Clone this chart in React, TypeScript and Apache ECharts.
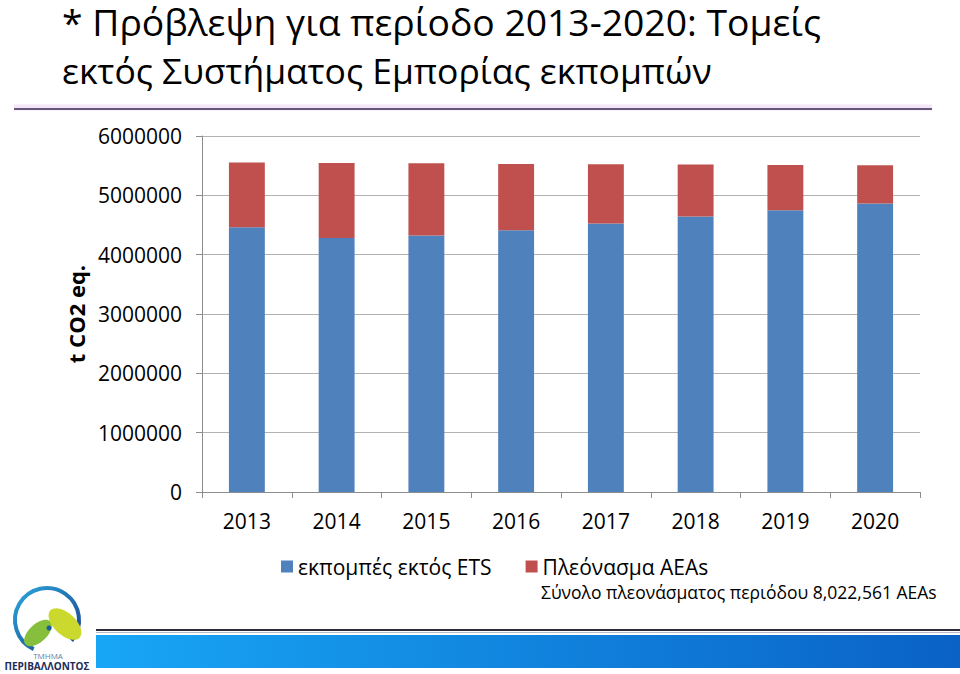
import React, { useEffect, useRef } from "react";
import * as echarts from "echarts";

const years = ["2013", "2014", "2015", "2016", "2017", "2018", "2019", "2020"];
const emissions = [4461000, 4281000, 4322000, 4411000, 4524000, 4642000, 4748000, 4861000];
const surplus = [1091000, 1264000, 1218000, 1117000, 999000, 876000, 763000, 645000];
const seriesNames = ["εκπομπές εκτός ETS", "Πλεόνασμα AEAs"];
const yTicks = { min: 0, max: 6000000, interval: 1000000 };
const titleLines = ["* Πρόβλεψη για περίοδο 2013-2020: Τομείς", "εκτός Συστήματος Εμπορίας εκπομπών"];
const totalNote = "Σύνολο πλεονάσματος περιόδου 8,022,561 AEAs";
const yName = "t CO2 eq.";

const FONT = "'Open Sans', 'Noto Sans', sans-serif";

export default function App() {
  const ref = useRef<HTMLDivElement>(null);
  useEffect(() => {
    if (!ref.current) return;
    const chart = echarts.init(ref.current, undefined, { renderer: "svg" });
    const option: any = {
      animation: false,
      backgroundColor: "#ffffff",
      grid: { left: 202, right: 40, top: 136, height: 356 },
      legend: {
        data: seriesNames,
        left: 276,
        top: 551,
        icon: "rect",
        itemWidth: 12,
        itemHeight: 12,
        itemGap: 34,
        textStyle: { fontFamily: FONT, fontSize: 21, color: "#000" },
      },
      xAxis: {
        type: "category",
        data: years,
        axisLine: { lineStyle: { color: "#8c8c8c" } },
        axisTick: { show: true, length: 6, lineStyle: { color: "#8c8c8c" } },
        axisLabel: { fontFamily: FONT, fontSize: 21, color: "#000", margin: 18 },
      },
      yAxis: {
        type: "value",
        min: yTicks.min,
        max: yTicks.max,
        interval: yTicks.interval,
        name: yName,
        nameLocation: "middle",
        nameRotate: 90,
        nameGap: 108,
        nameTextStyle: { fontFamily: FONT, fontSize: 22, fontWeight: "bold", color: "#000" },
        axisLine: { show: true, lineStyle: { color: "#8c8c8c" } },
        axisTick: { show: true, length: 6, lineStyle: { color: "#8c8c8c" } },
        axisLabel: {
          fontFamily: FONT,
          fontSize: 21,
          color: "#000",
          margin: 20,
          formatter: (v: number) => String(v),
        },
        splitLine: { lineStyle: { color: "#b3b3b3", width: 1.2 } },
      },
      series: [
        {
          name: seriesNames[0],
          type: "bar",
          stack: "total",
          data: emissions,
          barWidth: "40%",
          itemStyle: { color: "#4f81bd" },
        },
        {
          name: seriesNames[1],
          type: "bar",
          stack: "total",
          data: surplus,
          barWidth: "40%",
          itemStyle: { color: "#c0504d" },
        },
      ],
      graphic: [
        {
          type: "text",
          x: 62,
          y: 3,
          style: {
            text: titleLines[0],
            fontFamily: FONT,
            fontSize: 37.3,
            fill: "#000",
            verticalAlign: "top",
          },
        },
        {
          type: "text",
          x: 62,
          y: 52,
          style: {
            text: titleLines[1],
            fontFamily: FONT,
            fontSize: 35.5,
            fill: "#000",
            verticalAlign: "top",
          },
        },
        {
          type: "line",
          shape: { x1: 14, y1: 107.5, x2: 932, y2: 107.5 },
          style: { stroke: "rgba(235,205,240,0.5)", lineWidth: 6 },
        },
        {
          type: "line",
          shape: { x1: 14, y1: 109, x2: 932, y2: 109 },
          style: { stroke: "#66567a", lineWidth: 2 },
        },
        {
          type: "text",
          x: 541,
          y: 583,
          style: {
            text: totalNote,
            fontFamily: FONT,
            fontSize: 17.5,
            fill: "#000",
            verticalAlign: "top",
          },
        },
        {
          type: "line",
          shape: { x1: 96, y1: 630, x2: 960, y2: 630 },
          style: { stroke: "#2c2c3c", lineWidth: 2 },
        },
        {
          type: "line",
          shape: { x1: 96, y1: 632.5, x2: 960, y2: 632.5 },
          style: { stroke: "#b8bcc4", lineWidth: 1 },
        },
        {
          type: "rect",
          shape: { x: 96, y: 635, width: 864, height: 33 },
          style: {
            fill: new echarts.graphic.LinearGradient(0, 0, 1, 0, [
              { offset: 0, color: "#18a6f6" },
              { offset: 1, color: "#0a62c6" },
            ]),
          },
        },
        {
          type: "arc",
          shape: { cx: 47, cy: 620, r: 32, startAngle: 2.0, endAngle: 0.7, clockwise: true },
          style: {
            stroke: new echarts.graphic.LinearGradient(0, 0, 1, 1, [
              { offset: 0, color: "#2aa6dc" },
              { offset: 1, color: "#1b3f8a" },
            ]),
            lineWidth: 4,
            fill: "none",
          },
        },
        {
          type: "ellipse",
          x: 38,
          y: 633,
          rotation: 0.75,
          shape: { cx: 0, cy: 0, rx: 17, ry: 9 },
          style: { fill: "#86bf3c" },
        },
        {
          type: "ellipse",
          x: 65,
          y: 624,
          rotation: -0.75,
          shape: { cx: 0, cy: 0, rx: 20, ry: 11 },
          style: { fill: "#cbd92e" },
        },
        {
          type: "circle",
          shape: { cx: 49, cy: 628, r: 2.5 },
          style: { fill: "#1c5aa0" },
        },
        {
          type: "text",
          x: 48,
          y: 651,
          style: {
            text: "ΤΜΗΜΑ",
            fontFamily: FONT,
            fontSize: 8,
            fill: "#5b7fa8",
            align: "center",
            verticalAlign: "top",
          },
        },
        {
          type: "text",
          x: 47,
          y: 661,
          style: {
            text: "ΠΕΡΙΒΑΛΛΟΝΤΟΣ",
            fontFamily: FONT,
            fontSize: 10,
            fontWeight: "bold",
            fill: "#1b2c5a",
            align: "center",
            verticalAlign: "top",
          },
        },
      ],
    };
    chart.setOption(option);
    return () => chart.dispose();
  }, []);
  return (
    <div
      ref={ref}
      style={{ position: "fixed", left: 0, top: 0, width: 960, height: 674, background: "#fff" }}
    />
  );
}
